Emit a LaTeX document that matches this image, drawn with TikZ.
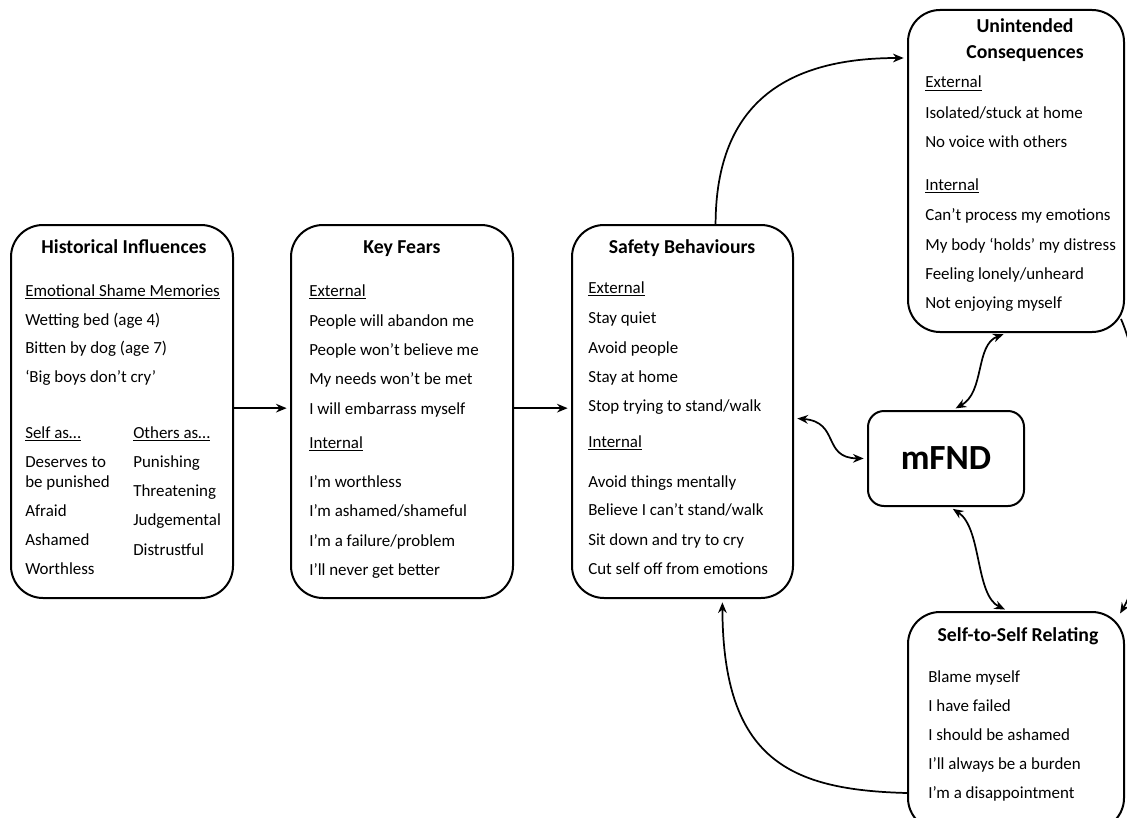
\documentclass[tikz,border=0pt]{standalone}
\usepackage{fontspec}
\setmainfont{Carlito}
\usetikzlibrary{arrows.meta,fit}
\begin{document}
\begin{tikzpicture}[x=0.75pt,y=-0.75pt,
  box/.style={draw, line width=1.5pt, rounded corners=24pt, inner sep=0pt},
  smallbox/.style={draw, line width=1.5pt, rounded corners=12pt, inner sep=0pt},
  big/.style={anchor=base, inner sep=0pt, font=\fontsize{26.5}{30}\selectfont\bfseries},
  txt/.style={anchor=base west, inner sep=0pt, font=\fontsize{12.7}{15}\selectfont},
  ttl/.style={anchor=base, inner sep=0pt, font=\fontsize{14.8}{18}\selectfont\bfseries},
  conn/.style={line width=1.3pt, -{Stealth[length=8pt,width=6.5pt]}, shorten >=2.5pt},
  dconn/.style={line width=1.3pt, {Stealth[length=8pt,width=6.5pt]}-{Stealth[length=8pt,width=6.5pt]}, shorten >=2.5pt, shorten <=2.5pt}
]
\useasboundingbox (0,0) rectangle (1127,817);

% boxes
\node[box, fit={(11,225) (233,598)}] (hi) {};
\node[box, fit={(291,225) (513,598)}] (kf) {};
\node[box, fit={(572,225) (793,598)}] (sb) {};
\node[box, fit={(908,10) (1124,332)}] (uc) {};
\node[box, fit={(908,612) (1124,830)}] (ssr) {};
\node[smallbox, fit={(868,411) (1024,506)}] (mf) {};
\node[big] (mfT) at (946,469) {mFND};

% Historical Influences
\node[ttl] (hiT) at (124,253) {Historical Influences};
\node[txt] (hi1) at (25,296) {\underline{Emotional Shame Memories}};
\node[txt] (hi2) at (25,325) {Wetting bed (age 4)};
\node[txt] (hi3) at (25,353) {Bitten by dog (age 7)};
\node[txt] (hi4) at (25,382) {‘Big boys don’t cry’};
\node[txt] (hi5) at (25,438) {\underline{Self as…}};
\node[txt] (hi6) at (25,467) {Deserves to};
\node[txt] (hi7) at (25,487) {be punished};
\node[txt] (hi8) at (25,516) {Afraid};
\node[txt] (hi9) at (25,545) {Ashamed};
\node[txt] (hi10) at (25,574) {Worthless};
\node[txt] (ho1) at (133,438) {\underline{Others as…}};
\node[txt] (ho2) at (133,467) {Punishing};
\node[txt] (ho3) at (133,496) {Threatening};
\node[txt] (ho4) at (133,525) {Judgemental};
\node[txt] (ho5) at (133,555) {Distrustful};

% Key Fears
\node[ttl] (kfT) at (402,253) {Key Fears};
\node[txt] (kf1) at (309,296) {\underline{External}};
\node[txt] (kf2) at (309,326) {People will abandon me};
\node[txt] (kf3) at (309,355) {People won’t believe me};
\node[txt] (kf4) at (309,384) {My needs won’t be met};
\node[txt] (kf5) at (309,414) {I will embarrass myself};
\node[txt] (kf6) at (309,448) {\underline{Internal}};
\node[txt] (kf7) at (309,487) {I’m worthless};
\node[txt] (kf8) at (309,516) {I’m ashamed/shameful};
\node[txt] (kf9) at (309,546) {I’m a failure/problem};
\node[txt] (kf10) at (309,575) {I’ll never get better};

% Safety Behaviours
\node[ttl] (sbT) at (682,253) {Safety Behaviours};
\node[txt] (sb1) at (588,293) {\underline{External}};
\node[txt] (sb2) at (588,323) {Stay quiet};
\node[txt] (sb3) at (588,353) {Avoid people};
\node[txt] (sb4) at (588,382) {Stay at home};
\node[txt] (sb5) at (588,411) {Stop trying to stand/walk};
\node[txt] (sb6) at (588,447) {\underline{Internal}};
\node[txt] (sb7) at (588,487) {Avoid things mentally};
\node[txt] (sb8) at (588,515) {Believe I can’t stand/walk};
\node[txt] (sb9) at (588,545) {Sit down and try to cry};
\node[txt] (sb10) at (588,574) {Cut self off from emotions};

% Unintended Consequences
\node[ttl] (ucT1) at (1025,33) {Unintended};
\node[ttl] (ucT2) at (1025,59) {Consequences};
\node[txt] (uc1) at (925,88) {\underline{External}};
\node[txt] (uc2) at (925,118) {Isolated/stuck at home};
\node[txt] (uc3) at (925,147) {No voice with others};
\node[txt] (uc4) at (925,190) {\underline{Internal}};
\node[txt] (uc5) at (925,220) {Can’t process my emotions};
\node[txt] (uc6) at (925,250) {My body ‘holds’ my distress};
\node[txt] (uc7) at (925,279) {Feeling lonely/unheard};
\node[txt] (uc8) at (925,308) {Not enjoying myself};

% Self-to-Self Relating
\node[ttl] (ssrT) at (1018,641) {Self-to-Self Relating};
\node[txt] (ssr1) at (928,682) {Blame myself};
\node[txt] (ssr2) at (928,711) {I have failed};
\node[txt] (ssr3) at (928,740) {I should be ashamed};
\node[txt] (ssr4) at (928,769) {I’ll always be a burden};
\node[txt] (ssr5) at (928,798) {I’m a disappointment};

% connectors
\draw[conn] ([yshift=2.5pt]hi.east) -- ([yshift=2.5pt]kf.west);
\draw[conn] ([yshift=2.5pt]kf.east) -- ([yshift=2.5pt]sb.west);
\draw[conn] (sb.80) .. controls (716,100) and (790,58) .. ([yshift=84.75pt]uc.west);
\draw[conn] ([yshift=-54pt]ssr.west) .. controls (790,790) and (723,760) .. (sb.-78);
\draw[conn] ([xshift=-3pt,yshift=10.5pt]uc.south east) .. controls (1152,390) and (1152,560) .. ([xshift=-5pt,yshift=-4pt]ssr.north east);
\draw[dconn] ([yshift=-5pt]sb.east) .. controls (840,422) and (822,458) .. (mf.west);
\draw[dconn] ([xshift=5pt]mf.north) .. controls (985,392) and (975,345) .. ([xshift=-7pt]uc.south);
\draw[dconn] ([xshift=3pt]mf.south) .. controls (982,528) and (975,595) .. ([xshift=-6pt]ssr.north);
\end{tikzpicture}
\end{document}
